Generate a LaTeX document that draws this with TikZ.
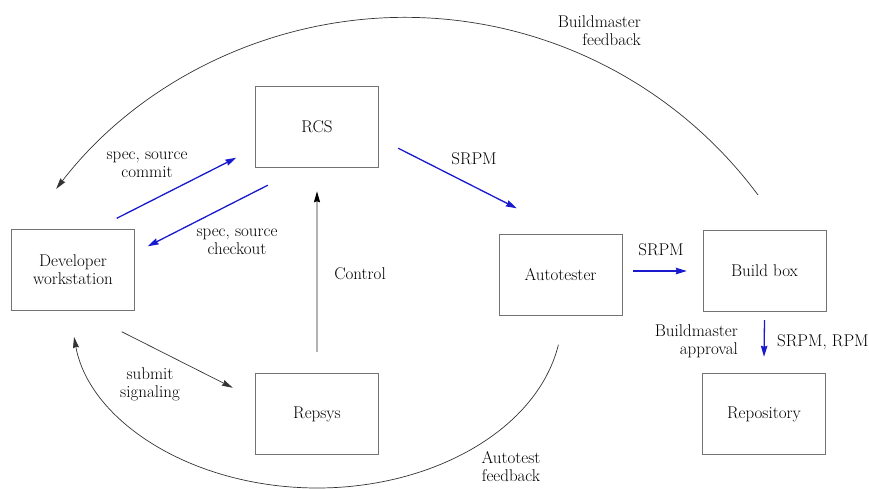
\documentclass[tikz,border=0pt]{standalone}
\usetikzlibrary{arrows.meta,calc}
\definecolor{flowblue}{RGB}{25,25,205}
\tikzset{
  box/.style={draw=black!55, align=center, minimum width=123pt, minimum height=81pt, inner sep=0pt},
  flow/.style={flowblue, line width=1.3pt, -{Stealth[length=11pt,width=6.5pt,inset=1pt]}},
  fbline/.style={black!80, line width=0.7pt, -{Stealth[length=11pt,width=6pt,inset=1pt]}},
  ctrlline/.style={black!30, line width=1.6pt, -{Stealth[length=11pt,width=6pt,inset=1pt,black]}},
  lbl/.style={align=center, inner sep=0pt}
}
\begin{document}
\begin{tikzpicture}[x=1pt, y=-1pt, font=\fontsize{17}{18}\selectfont]
	    \useasboundingbox (0,0) rectangle (869,488);
	    % boxes
	    \node[box] (dev) at (73,270) {Developer\\workstation};
	    \node[box] (rcs) at (317,127) {RCS};
	    \node[box] (repsys) at (317,414) {Repsys};
	    \node[box] (auto) at (560.5,275) {Autotester};
	    \node[box] (build) at (764.5,270.5) {Build box};
	    \node[box] (repo) at (764,414) {Repository};
	    
	    % blue flows
	    \draw[flow] ($(dev.north east)+(-18,-11)$) -- ($(rcs.south west)+(-19,-10)$);
	    \draw[flow] ($(rcs.south west)+(12.5,17.5)$) -- ($(dev.north east)+(13,17)$);
	    \draw[flow] ($(rcs.south east)+(19.5,-19.5)$) -- ($(auto.north west)+(18,-26)$);
	    \draw[flow] ($(auto.east)+(11,-4)$) -- ($(build.west)+(-16,0.5)$);
	    \draw[flow] ($(build.south)+(0,9)$) -- ($(repo.north)+(0,-16.5)$);
	    
	    \draw[ctrlline] ($(repsys.north)+(0,-21.5)$) -- ($(rcs.south)+(0,23.5)$);
	    \draw[fbline] ($(dev.south east)+(-13,21)$) -- ($(repsys.north west)+(-22.5,14.5)$);
	    
	    % feedback arcs
	    \coordinate (bmfb) at (758,195);
	    \coordinate (atfb) at (558.4,344.7);
	    \draw[fbline] (bmfb) arc[start angle=36.6, end angle=142.4, radius=440pt];
	    \draw[fbline] (atfb) arc[start angle=-9.9, end angle=-172.7, x radius=245pt, y radius=173pt];
	    
	    % labels
	    \node[lbl] (commit) at (147,165) {spec, source\\commit};
	    \node[lbl] (checkout) at (237,242) {spec, source\\checkout};
	    \node[lbl] (srpma) at (474,159) {SRPM};
	    \node[lbl] (srpmb) at (661,250) {SRPM};
	    \node[lbl] (control) at (360,274) {Control};
	    \node[lbl] (submit) at (150,384) {submit\\signaling};
	    \node[lbl, align=right, anchor=east] (bmtext) at (641,31) {Buildmaster\\feedback};
	    \node[lbl] (attext) at (511,467) {Autotest\\feedback};
	    \node[lbl, align=right, anchor=east] (approval) at (738,341) {Buildmaster\\approval};
	    \node[lbl, anchor=west] (srpmrpm) at (777,342) {SRPM, RPM};
\end{tikzpicture}
\end{document}
